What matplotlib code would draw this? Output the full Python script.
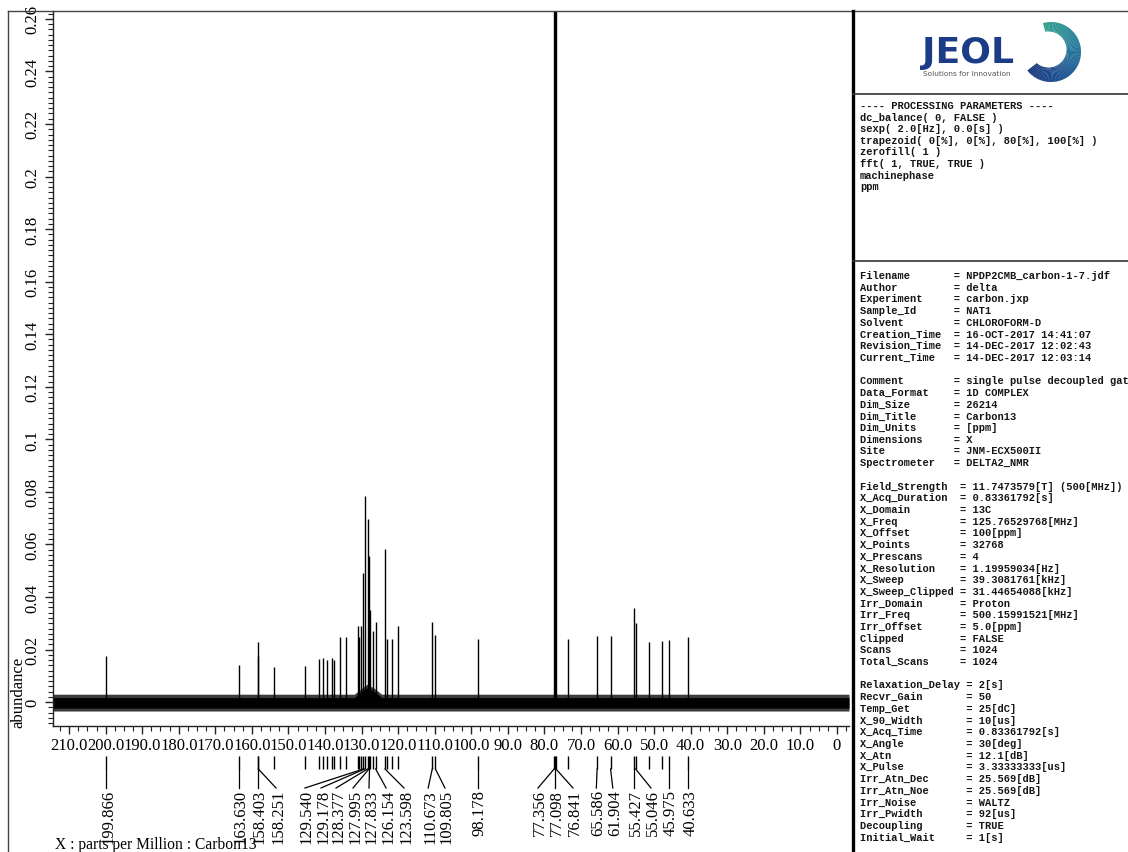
import matplotlib
matplotlib.use("Agg")
import matplotlib.pyplot as plt
import matplotlib.transforms as mtransforms
from matplotlib.ticker import MultipleLocator, FuncFormatter
from matplotlib.patches import Wedge, Circle
from matplotlib.colors import LinearSegmentedColormap

SERIF = ["Liberation Serif", "DejaVu Serif"]
MONO = ["Liberation Mono", "DejaVu Sans Mono"]
plt.rcParams["font.family"] = SERIF

# ---------------- 13C peak table (ppm, abundance) ----------------
# picked and labelled peaks
labelled_ppm = [199.866, 163.630, 158.403, 158.251, 129.540, 129.178, 128.377,
                127.995, 127.833, 126.154, 123.598, 110.673, 109.805, 98.178,
                77.356, 77.098, 76.841, 65.586, 61.904, 55.427, 55.046,
                45.975, 40.633]
labelled_height = [0.0175, 0.0140, 0.0228, 0.0175, 0.0490, 0.0785, 0.0695,
                   0.0555, 0.0350, 0.0306, 0.0583, 0.0306, 0.0256, 0.0240,
                   0.300, 0.300, 0.300, 0.0250, 0.0250, 0.0358, 0.0300,
                   0.0236, 0.0248]
# picked peaks that carry no label
other_ppm = [153.9, 145.5, 141.6, 140.5, 139.4, 138.2, 137.6, 135.9, 134.2,
             131.1, 130.6, 130.2, 127.0, 123.0, 121.6, 120.0, 73.6, 51.4, 47.9]
other_height = [0.0133, 0.0137, 0.0164, 0.0168, 0.0160, 0.0168, 0.0160,
                0.0248, 0.0248, 0.0290, 0.0248, 0.0290, 0.0270, 0.0240,
                0.0240, 0.0290, 0.0240, 0.0230, 0.0233]

# baseline noise envelope
noise_ppm = [214.4, 132.0, 130.0, 128.5, 126.5, 124.5, -3.3]
noise_hi = [0.0030, 0.0030, 0.0052, 0.0068, 0.0052, 0.0030, 0.0030]
noise_lo = [-0.0034] * 7
core_hi = [0.0017, 0.0017, 0.0040, 0.0054, 0.0040, 0.0017, 0.0017]
core_lo = [-0.0023] * 7

# where each label's leader line ends (ppm scale), left to right
label_slot_ppm = [199.866, 163.630, 158.403, 153.4, 145.5, 141.1, 137.0,
                  132.35, 127.98, 123.3, 118.4, 111.8, 107.2, 98.178,
                  81.76, 77.098, 72.19, 65.8, 61.3, 55.427, 50.86,
                  45.975, 40.633]

W, H = 1128, 853
fig = plt.figure(figsize=(W / 100, H / 100), dpi=100)


def fx(px):
    return px / W


def fy(py):
    return 1 - py / H


AX_L, AX_R, AX_T, AX_B = 53, 849, 12, 727
ax = fig.add_axes([fx(AX_L), fy(AX_B), fx(AX_R) - fx(AX_L), fy(AX_T) - fy(AX_B)])
ax.set_xlim(214.4, -3.3)
ax.set_ylim(-0.0091, 0.263)
ax.patch.set_alpha(0)

peak_ppm = labelled_ppm + other_ppm
peak_height = labelled_height + other_height

ax.fill_between(noise_ppm, noise_lo, noise_hi, color="#3c3c3c", lw=0)
ax.fill_between(noise_ppm, core_lo, core_hi, color="black", lw=0)
ax.vlines(peak_ppm, 0, peak_height, colors="black", lw=1.0)

for side in ("top", "right"):
    ax.spines[side].set_visible(False)
for side in ("left", "bottom"):
    ax.spines[side].set_linewidth(1.0)
    ax.spines[side].set_color("#222222")

ax.xaxis.set_major_locator(MultipleLocator(10))
ax.xaxis.set_minor_locator(MultipleLocator(2.5))
ax.yaxis.set_major_locator(MultipleLocator(0.02))
ax.yaxis.set_minor_locator(MultipleLocator(0.002))
ax.xaxis.set_major_formatter(FuncFormatter(lambda v, _: "0" if abs(v) < 1e-9 else f"{v:.1f}"))
ax.yaxis.set_major_formatter(FuncFormatter(lambda v, _: "0" if abs(v) < 1e-9 else f"{v:g}"))
ax.tick_params(which="major", direction="out", length=6, width=1, labelsize=12, color="#222222")
ax.tick_params(which="minor", direction="out", length=3.5, width=0.8, color="#222222")
ax.tick_params(axis="x", which="major", pad=2)
ax.tick_params(axis="y", which="major", pad=3)
plt.setp(ax.get_yticklabels(), rotation=90, va="center", ha="right")

# peak marks, leader lines and shift labels under the axis
ax_h = AX_B - AX_T


def ay(py):
    return (AX_B - py) / ax_h


xtr = ax.get_xaxis_transform()
ax.vlines(peak_ppm, ay(770), ay(757), transform=xtr, colors="black", lw=1.0, clip_on=False)
lbl_tr = xtr + mtransforms.ScaledTranslation(2 / 100, 0, fig.dpi_scale_trans)
for ppm, slot in zip(labelled_ppm, label_slot_ppm):
    ax.plot([ppm, slot], [ay(770), ay(789)], transform=xtr, color="black", lw=0.9, clip_on=False)
    ax.text(slot, ay(790), f"{ppm:.3f}", rotation=90, ha="center", va="top",
            transform=lbl_tr, fontsize=12, clip_on=False)

fig.text(fx(18), fy(692), "abundance", rotation=90, ha="center", va="center", fontsize=12)
fig.text(fx(55), fy(845), "X : parts per Million : Carbon13", ha="left", va="center", fontsize=11.2)

# ---------------- frame, logo and parameter panel ----------------
ov = fig.add_axes([0, 0, 1, 1], zorder=5)
ov.set_xlim(0, W)
ov.set_ylim(0, H)
ov.axis("off")
ov.patch.set_alpha(0)


def Y(py):
    return H - py


ov.plot([8, 8], [Y(12), Y(853)], color="#444444", lw=1.0)
ov.plot([8, W], [Y(12), Y(12)], color="#444444", lw=1.0)
ov.plot([853, 853], [Y(12), Y(853)], color="black", lw=2.4)
ov.plot([853, W], [Y(95), Y(95)], color="#333333", lw=1.2)
ov.plot([853, W], [Y(262), Y(262)], color="#333333", lw=1.2)

ring_cmap = LinearSegmentedColormap.from_list("ring", ["#1b3a80", "#1e5593", "#2a7f9c", "#35a08f"])
t_start, t_end, nseg = 218.0, 465.0, 80
for i in range(nseg):
    t0 = t_start + (t_end - t_start) * i / nseg
    t1 = t_start + (t_end - t_start) * (i + 1) / nseg
    ov.add_patch(Wedge((1051, Y(53)), 30, t0, t1 + 0.6, color=ring_cmap(i / (nseg - 1)), lw=0))
ov.add_patch(Circle((1048.5, Y(50.5)), 18, color="white", lw=0))
ov.text(968, Y(53), "JEOL", ha="center", va="center", fontsize=26, fontweight="bold",
        color="#1d3c88", family="DejaVu Sans")
ov.text(967, Y(74), "Solutions for Innovation", ha="center", va="center", fontsize=5.3,
        color="#555555", family="DejaVu Sans")

proc_lines = [
    "---- PROCESSING PARAMETERS ----",
    "dc_balance( 0, FALSE )",
    "sexp( 2.0[Hz], 0.0[s] )",
    "trapezoid( 0[%], 0[%], 80[%], 100[%] )",
    "zerofill( 1 )",
    "fft( 1, TRUE, TRUE )",
    "machinephase",
    "ppm",
]
txt_kw = dict(family=MONO, fontsize=7.5, fontweight="bold", color="#151515",
              ha="left", va="center")
for i, line in enumerate(proc_lines):
    ov.text(860, Y(106 + i * 11.6), line, **txt_kw)

param_blocks = [
    (14, [("Filename", "NPDP2CMB_carbon-1-7.jdf"), ("Author", "delta"),
          ("Experiment", "carbon.jxp"), ("Sample_Id", "NAT1"),
          ("Solvent", "CHLOROFORM-D"), ("Creation_Time", "16-OCT-2017 14:41:07"),
          ("Revision_Time", "14-DEC-2017 12:02:43"), ("Current_Time", "14-DEC-2017 12:03:14")]),
    (14, [("Comment", "single pulse decoupled gated NOE"), ("Data_Format", "1D COMPLEX"),
          ("Dim_Size", "26214"), ("Dim_Title", "Carbon13"), ("Dim_Units", "[ppm]"),
          ("Dimensions", "X"), ("Site", "JNM-ECX500II"), ("Spectrometer", "DELTA2_NMR")]),
    (15, [("Field_Strength", "11.7473579[T] (500[MHz])"), ("X_Acq_Duration", "0.83361792[s]"),
          ("X_Domain", "13C"), ("X_Freq", "125.76529768[MHz]"), ("X_Offset", "100[ppm]"),
          ("X_Points", "32768"), ("X_Prescans", "4"), ("X_Resolution", "1.19959034[Hz]"),
          ("X_Sweep", "39.3081761[kHz]"), ("X_Sweep_Clipped", "31.44654088[kHz]"),
          ("Irr_Domain", "Proton"), ("Irr_Freq", "500.15991521[MHz]"),
          ("Irr_Offset", "5.0[ppm]"), ("Clipped", "FALSE"), ("Scans", "1024"),
          ("Total_Scans", "1024")]),
    (16, [("Relaxation_Delay", "2[s]"), ("Recvr_Gain", "50"), ("Temp_Get", "25[dC]"),
          ("X_90_Width", "10[us]"), ("X_Acq_Time", "0.83361792[s]"), ("X_Angle", "30[deg]"),
          ("X_Atn", "12.1[dB]"), ("X_Pulse", "3.33333333[us]"), ("Irr_Atn_Dec", "25.569[dB]"),
          ("Irr_Atn_Noe", "25.569[dB]"), ("Irr_Noise", "WALTZ"), ("Irr_Pwidth", "92[us]"),
          ("Decoupling", "TRUE"), ("Initial_Wait", "1[s]")]),
]
row = 0
for pad, items in param_blocks:
    for key, val in items:
        ov.text(860, Y(276 + row * 11.7), f"{key:<{pad}} = {val}", **txt_kw)
        row += 1
    row += 1

fig.savefig("out.png", dpi=100)
